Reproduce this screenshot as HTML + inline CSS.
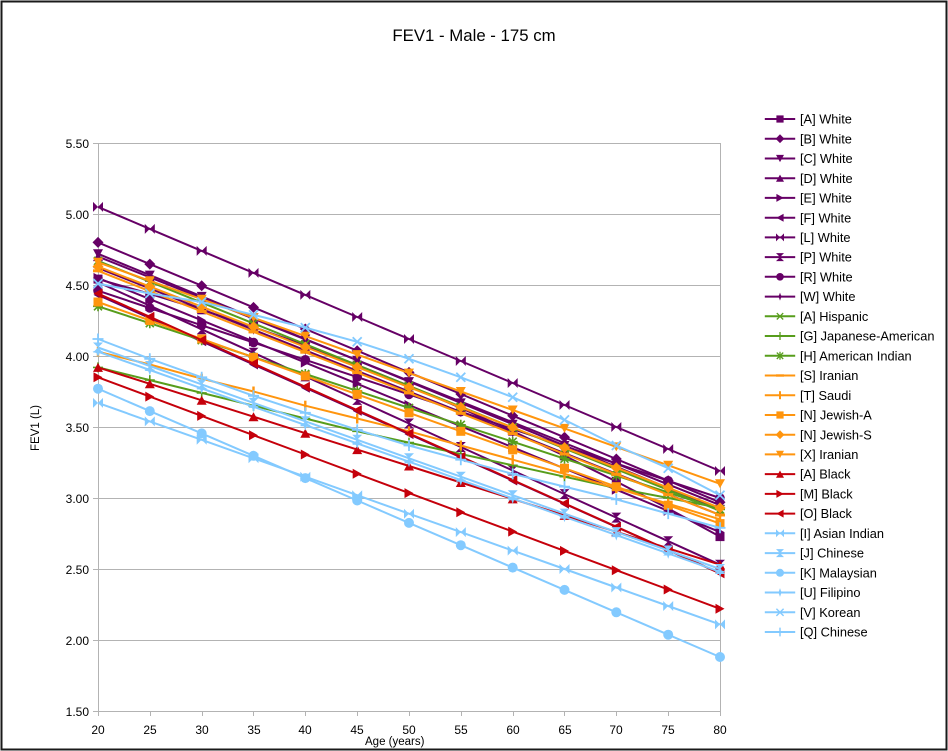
<!DOCTYPE html>
<html><head><meta charset="utf-8"><style>
html,body{margin:0;padding:0;background:#fff;}
svg{display:block;font-family:"Liberation Sans",sans-serif;}
</style></head><body>
<svg width="948" height="751" viewBox="0 0 948 751" xmlns="http://www.w3.org/2000/svg">
<defs>
<!-- purple -->
<marker id="pA" markerUnits="userSpaceOnUse" markerWidth="14" markerHeight="14" viewBox="-7 -7 14 14" refX="0" refY="0" overflow="visible"><rect x="-4.5" y="-4.5" width="9" height="9" fill="#660066"/></marker>
<marker id="pB" markerUnits="userSpaceOnUse" markerWidth="14" markerHeight="14" viewBox="-7 -7 14 14" refX="0" refY="0" overflow="visible"><polygon points="0,-5.5 5.5,0 0,5.5 -5.5,0" fill="#660066"/></marker>
<marker id="pC" markerUnits="userSpaceOnUse" markerWidth="14" markerHeight="14" viewBox="-7 -7 14 14" refX="0" refY="0" overflow="visible"><polygon points="-5,-4.5 5,-4.5 0,4.5" fill="#660066"/></marker>
<marker id="pD" markerUnits="userSpaceOnUse" markerWidth="14" markerHeight="14" viewBox="-7 -7 14 14" refX="0" refY="0" overflow="visible"><polygon points="-5,4.5 5,4.5 0,-4.5" fill="#660066"/></marker>
<marker id="pE" markerUnits="userSpaceOnUse" markerWidth="14" markerHeight="14" viewBox="-7 -7 14 14" refX="0" refY="0" overflow="visible"><polygon points="-4.5,-5 4.5,0 -4.5,5" fill="#660066"/></marker>
<marker id="pF" markerUnits="userSpaceOnUse" markerWidth="14" markerHeight="14" viewBox="-7 -7 14 14" refX="0" refY="0" overflow="visible"><polygon points="4.5,-5 -4.5,0 4.5,5" fill="#660066"/></marker>
<marker id="pL" markerUnits="userSpaceOnUse" markerWidth="14" markerHeight="14" viewBox="-7 -7 14 14" refX="0" refY="0" overflow="visible"><polygon points="-5,-5 0,0 -5,5" fill="#660066"/><polygon points="5,-5 0,0 5,5" fill="#660066"/></marker>
<marker id="pP" markerUnits="userSpaceOnUse" markerWidth="14" markerHeight="14" viewBox="-7 -7 14 14" refX="0" refY="0" overflow="visible"><polygon points="-5,-5 5,-5 0,0" fill="#660066"/><polygon points="-5,5 5,5 0,0" fill="#660066"/></marker>
<marker id="pR" markerUnits="userSpaceOnUse" markerWidth="14" markerHeight="14" viewBox="-7 -7 14 14" refX="0" refY="0" overflow="visible"><circle r="4.8" fill="#660066"/></marker>
<marker id="pW" markerUnits="userSpaceOnUse" markerWidth="14" markerHeight="14" viewBox="-7 -7 14 14" refX="0" refY="0" overflow="visible"><polygon points="0,-5 1.3,-1.3 5,0 1.3,1.3 0,5 -1.3,1.3 -5,0 -1.3,-1.3" fill="#660066"/></marker>
<!-- green -->
<marker id="gA" markerUnits="userSpaceOnUse" markerWidth="14" markerHeight="14" viewBox="-7 -7 14 14" refX="0" refY="0" overflow="visible"><path d="M-4,-4L4,4M-4,4L4,-4" stroke="#579d1c" stroke-width="1.6"/></marker>
<marker id="gG" markerUnits="userSpaceOnUse" markerWidth="14" markerHeight="14" viewBox="-7 -7 14 14" refX="0" refY="0" overflow="visible"><path d="M0,-5L0,5M-5,0L5,0" stroke="#579d1c" stroke-width="1.6"/></marker>
<marker id="gH" markerUnits="userSpaceOnUse" markerWidth="14" markerHeight="14" viewBox="-7 -7 14 14" refX="0" refY="0" overflow="visible"><path d="M-4,-4L4,4M-4,4L4,-4M0,-5L0,5M-5,0L5,0" stroke="#579d1c" stroke-width="1.6"/></marker>
<!-- orange -->
<marker id="oS" markerUnits="userSpaceOnUse" markerWidth="14" markerHeight="14" viewBox="-7 -7 14 14" refX="0" refY="0" overflow="visible"><rect x="-5" y="-1.5" width="10" height="3" fill="#ff950e"/></marker>
<marker id="oT" markerUnits="userSpaceOnUse" markerWidth="14" markerHeight="14" viewBox="-7 -7 14 14" refX="0" refY="0" overflow="visible"><rect x="-1.2" y="-5" width="2.4" height="10" fill="#ff950e"/></marker>
<marker id="oNA" markerUnits="userSpaceOnUse" markerWidth="14" markerHeight="14" viewBox="-7 -7 14 14" refX="0" refY="0" overflow="visible"><rect x="-4.5" y="-4.5" width="9" height="9" fill="#ff950e"/></marker>
<marker id="oNS" markerUnits="userSpaceOnUse" markerWidth="14" markerHeight="14" viewBox="-7 -7 14 14" refX="0" refY="0" overflow="visible"><polygon points="0,-5.5 5.5,0 0,5.5 -5.5,0" fill="#ff950e"/></marker>
<marker id="oX" markerUnits="userSpaceOnUse" markerWidth="14" markerHeight="14" viewBox="-7 -7 14 14" refX="0" refY="0" overflow="visible"><polygon points="-5,-4.5 5,-4.5 0,4.5" fill="#ff950e"/></marker>
<!-- red -->
<marker id="rA" markerUnits="userSpaceOnUse" markerWidth="14" markerHeight="14" viewBox="-7 -7 14 14" refX="0" refY="0" overflow="visible"><polygon points="-5,4.5 5,4.5 0,-4.5" fill="#c5000b"/></marker>
<marker id="rM" markerUnits="userSpaceOnUse" markerWidth="14" markerHeight="14" viewBox="-7 -7 14 14" refX="0" refY="0" overflow="visible"><polygon points="-4.5,-5 4.5,0 -4.5,5" fill="#c5000b"/></marker>
<marker id="rO" markerUnits="userSpaceOnUse" markerWidth="14" markerHeight="14" viewBox="-7 -7 14 14" refX="0" refY="0" overflow="visible"><polygon points="4.5,-5 -4.5,0 4.5,5" fill="#c5000b"/></marker>
<!-- light blue -->
<marker id="bI" markerUnits="userSpaceOnUse" markerWidth="14" markerHeight="14" viewBox="-7 -7 14 14" refX="0" refY="0" overflow="visible"><polygon points="-5,-5 0,0 -5,5" fill="#83caff"/><polygon points="5,-5 0,0 5,5" fill="#83caff"/></marker>
<marker id="bJ" markerUnits="userSpaceOnUse" markerWidth="14" markerHeight="14" viewBox="-7 -7 14 14" refX="0" refY="0" overflow="visible"><polygon points="-5,-5 5,-5 0,0" fill="#83caff"/><polygon points="-5,5 5,5 0,0" fill="#83caff"/></marker>
<marker id="bK" markerUnits="userSpaceOnUse" markerWidth="14" markerHeight="14" viewBox="-7 -7 14 14" refX="0" refY="0" overflow="visible"><circle r="5" fill="#83caff"/></marker>
<marker id="bU" markerUnits="userSpaceOnUse" markerWidth="14" markerHeight="14" viewBox="-7 -7 14 14" refX="0" refY="0" overflow="visible"><polygon points="0,-5.5 1.4,-1.4 5.5,0 1.4,1.4 0,5.5 -1.4,1.4 -5.5,0 -1.4,-1.4" fill="#83caff"/></marker>
<marker id="bV" markerUnits="userSpaceOnUse" markerWidth="14" markerHeight="14" viewBox="-7 -7 14 14" refX="0" refY="0" overflow="visible"><path d="M-4.5,-4.5L4.5,4.5M-4.5,4.5L4.5,-4.5" stroke="#83caff" stroke-width="1.8"/></marker>
<marker id="bQ" markerUnits="userSpaceOnUse" markerWidth="14" markerHeight="14" viewBox="-7 -7 14 14" refX="0" refY="0" overflow="visible"><path d="M0,-5.5L0,5.5M-5.5,0L5.5,0" stroke="#83caff" stroke-width="1.8"/></marker>
</defs>

<rect x="0" y="0" width="948" height="751" fill="#fff"/>
<rect x="1.5" y="1.5" width="945" height="748" fill="none" stroke="#1a1a1a" stroke-width="2"/>

<text x="474" y="41" text-anchor="middle" font-size="16.8" fill="#000">FEV1 - Male - 175 cm</text>

<!-- grid -->
<g stroke="#b3b3b3" stroke-width="1">
<line x1="93" y1="143.5" x2="720" y2="143.5"/>
<line x1="93" y1="214.5" x2="720" y2="214.5"/>
<line x1="93" y1="285.5" x2="720" y2="285.5"/>
<line x1="93" y1="356.5" x2="720" y2="356.5"/>
<line x1="93" y1="427.5" x2="720" y2="427.5"/>
<line x1="93" y1="498.5" x2="720" y2="498.5"/>
<line x1="93" y1="569.5" x2="720" y2="569.5"/>
<line x1="93" y1="640.5" x2="720" y2="640.5"/>
<line x1="93" y1="711.5" x2="720" y2="711.5"/>
<line x1="98.5" y1="143" x2="98.5" y2="716"/>
<line x1="720.5" y1="143" x2="720.5" y2="716"/>
<line x1="150.5" y1="711" x2="150.5" y2="716"/>
<line x1="202.5" y1="711" x2="202.5" y2="716"/>
<line x1="253.5" y1="711" x2="253.5" y2="716"/>
<line x1="305.5" y1="711" x2="305.5" y2="716"/>
<line x1="357.5" y1="711" x2="357.5" y2="716"/>
<line x1="409.5" y1="711" x2="409.5" y2="716"/>
<line x1="461.5" y1="711" x2="461.5" y2="716"/>
<line x1="513.5" y1="711" x2="513.5" y2="716"/>
<line x1="564.5" y1="711" x2="564.5" y2="716"/>
<line x1="616.5" y1="711" x2="616.5" y2="716"/>
<line x1="668.5" y1="711" x2="668.5" y2="716"/>
</g>

<g font-size="12" fill="#000" text-anchor="end">
<text x="89" y="148">5.50</text>
<text x="89" y="219">5.00</text>
<text x="89" y="290">4.50</text>
<text x="89" y="361">4.00</text>
<text x="89" y="432">3.50</text>
<text x="89" y="503">3.00</text>
<text x="89" y="574">2.50</text>
<text x="89" y="645">2.00</text>
<text x="89" y="716">1.50</text>
</g>
<g font-size="12" fill="#000" text-anchor="middle">
<text x="98" y="734">20</text>
<text x="150" y="734">25</text>
<text x="202" y="734">30</text>
<text x="254" y="734">35</text>
<text x="305" y="734">40</text>
<text x="357" y="734">45</text>
<text x="409" y="734">50</text>
<text x="461" y="734">55</text>
<text x="513" y="734">60</text>
<text x="565" y="734">65</text>
<text x="616" y="734">70</text>
<text x="668" y="734">75</text>
<text x="720" y="734">80</text>
</g>
<text x="365" y="745" font-size="11.5" fill="#000">Age (years)</text>
<text transform="translate(39,428) rotate(-90)" text-anchor="middle" font-size="11.5" fill="#000">FEV1 (L)</text>

<!-- series -->
<g fill="none" stroke-width="2" stroke-linejoin="round">
<polyline stroke="#660066" marker-start="url(#pA)" marker-mid="url(#pA)" marker-end="url(#pA)" points="98,279.1 149.8,293.8 201.7,309.8 253.5,327.0 305.3,345.4 357.2,365.0 409,385.9 460.8,407.9 512.7,431.2 564.5,455.8 616.3,481.5 668.2,508.5 720,536.6"/>
<polyline stroke="#660066" marker-start="url(#pB)" marker-mid="url(#pB)" marker-end="url(#pB)" points="98,242.4 149.8,264.1 201.7,285.7 253.5,307.4 305.3,329.0 357.2,350.7 409,372.4 460.8,394.0 512.7,415.7 564.5,437.3 616.3,459.0 668.2,480.7 720,502.3"/>
<polyline stroke="#660066" marker-start="url(#pC)" marker-mid="url(#pC)" marker-end="url(#pC)" points="98,253.8 149.8,275.1 201.7,296.4 253.5,317.7 305.3,339.0 357.2,360.3 409,381.6 460.8,402.9 512.7,424.2 564.5,445.5 616.3,466.8 668.2,488.1 720,509.4"/>
<polyline stroke="#660066" marker-start="url(#pD)" marker-mid="url(#pD)" marker-end="url(#pD)" points="98,256.6 149.8,277.3 201.7,298.0 253.5,318.7 305.3,339.4 357.2,360.2 409,380.9 460.8,401.6 512.7,422.3 564.5,443.0 616.3,463.7 668.2,484.4 720,505.1"/>
<polyline stroke="#660066" marker-start="url(#pE)" marker-mid="url(#pE)" marker-end="url(#pE)" points="98,277.9 149.8,299.1 201.7,320.3 253.5,341.4 305.3,362.6 357.2,383.8 409,405.0 460.8,426.2 512.7,447.3 564.5,468.5 616.3,489.7 668.2,510.9 720,532.1"/>
<polyline stroke="#660066" marker-start="url(#pF)" marker-mid="url(#pF)" marker-end="url(#pF)" points="98,294.9 149.8,318.1 201.7,341.3 253.5,364.5 305.3,387.7 357.2,410.9 409,434.1 460.8,457.3 512.7,480.5 564.5,503.7 616.3,526.9 668.2,550.1 720,573.3"/>
<polyline stroke="#660066" marker-start="url(#pL)" marker-mid="url(#pL)" marker-end="url(#pL)" points="98,206.9 149.8,228.9 201.7,250.9 253.5,272.9 305.3,294.9 357.2,317.0 409,339.0 460.8,361.0 512.7,383.0 564.5,405.0 616.3,427.0 668.2,449.0 720,471.0"/>
<polyline stroke="#660066" marker-start="url(#pP)" marker-mid="url(#pP)" marker-end="url(#pP)" points="98,282.2 149.8,305.7 201.7,329.3 253.5,352.8 305.3,376.4 357.2,399.9 409,423.5 460.8,447.0 512.7,470.5 564.5,494.1 616.3,517.6 668.2,541.2 720,564.7"/>
<polyline stroke="#660066" marker-start="url(#pR)" marker-mid="url(#pR)" marker-end="url(#pR)" points="98,290.7 149.8,308.0 201.7,325.3 253.5,342.5 305.3,359.8 357.2,377.1 409,394.4 460.8,411.7 512.7,429.0 564.5,446.2 616.3,463.5 668.2,480.8 720,498.0"/>
<polyline stroke="#660066" marker-start="url(#pW)" marker-mid="url(#pW)" marker-end="url(#pW)" points="98,267.9 149.8,288.5 201.7,309.1 253.5,329.7 305.3,350.3 357.2,370.9 409,391.5 460.8,412.0 512.7,432.6 564.5,453.2 616.3,473.8 668.2,494.4 720,515.0"/>

<polyline stroke="#579d1c" marker-start="url(#gA)" marker-mid="url(#gA)" marker-end="url(#gA)" points="98,260.9 149.8,281.7 201.7,302.6 253.5,323.4 305.3,344.2 357.2,365.1 409,385.9 460.8,406.7 512.7,427.5 564.5,448.4 616.3,469.2 668.2,490.0 720,510.8"/>
<polyline stroke="#579d1c" marker-start="url(#gG)" marker-mid="url(#gG)" marker-end="url(#gG)" points="98,367.4 149.8,380.1 201.7,392.9 253.5,405.7 305.3,418.5 357.2,431.3 409,442.6 460.8,454.0 512.7,465.3 564.5,476.7 616.3,488.1 668.2,498.0 720,507.9"/>
<polyline stroke="#579d1c" marker-start="url(#gH)" marker-mid="url(#gH)" marker-end="url(#gH)" points="98,306.3 149.8,323.2 201.7,340.2 253.5,357.1 305.3,374.0 357.2,390.9 409,407.9 460.8,424.8 512.7,441.7 564.5,458.7 616.3,475.6 668.2,492.5 720,509.4"/>

<polyline stroke="#ff950e" marker-start="url(#oS)" marker-mid="url(#oS)" marker-end="url(#oS)" points="98,270.8 149.8,291.2 201.7,311.5 253.5,331.9 305.3,352.2 357.2,372.6 409,392.9 460.8,413.3 512.7,433.6 564.5,454.0 616.3,474.3 668.2,494.7 720,515.0"/>
<polyline stroke="#ff950e" marker-start="url(#oT)" marker-mid="url(#oT)" marker-end="url(#oT)" points="98,351.7 149.8,364.5 201.7,378.7 253.5,391.5 305.3,405.7 357.2,418.5 409,431.3 460.8,445.5 512.7,459.7 564.5,473.9 616.3,488.1 668.2,503.7 720,519.3"/>
<polyline stroke="#ff950e" marker-start="url(#oNA)" marker-mid="url(#oNA)" marker-end="url(#oNA)" points="98,302.0 149.8,320.5 201.7,338.9 253.5,357.4 305.3,375.9 357.2,394.4 409,412.8 460.8,431.3 512.7,449.8 564.5,468.2 616.3,486.7 668.2,505.2 720,523.6"/>
<polyline stroke="#ff950e" marker-start="url(#oNS)" marker-mid="url(#oNS)" marker-end="url(#oNS)" points="98,266.5 149.8,286.6 201.7,306.7 253.5,326.9 305.3,347.0 357.2,367.1 409,387.2 460.8,407.3 512.7,427.5 564.5,447.6 616.3,467.7 668.2,487.8 720,507.9"/>
<polyline stroke="#ff950e" marker-start="url(#oX)" marker-mid="url(#oX)" marker-end="url(#oX)" points="98,262.3 149.8,280.8 201.7,299.2 253.5,317.7 305.3,336.1 357.2,354.6 409,373.1 460.8,391.5 512.7,410.0 564.5,428.4 616.3,446.9 668.2,465.3 720,483.8"/>

<polyline stroke="#c5000b" marker-start="url(#rA)" marker-mid="url(#rA)" marker-end="url(#rA)" points="98,367.4 149.8,383.8 201.7,400.3 253.5,416.7 305.3,433.2 357.2,449.6 409,466.0 460.8,482.5 512.7,498.9 564.5,515.4 616.3,531.8 668.2,548.3 720,564.7"/>
<polyline stroke="#c5000b" marker-start="url(#rM)" marker-mid="url(#rM)" marker-end="url(#rM)" points="98,377.3 149.8,396.6 201.7,415.9 253.5,435.2 305.3,454.5 357.2,473.8 409,493.1 460.8,512.3 512.7,531.6 564.5,550.9 616.3,570.2 668.2,589.5 720,608.8"/>
<polyline stroke="#c5000b" marker-start="url(#rO)" marker-mid="url(#rO)" marker-end="url(#rO)" points="98,293.5 149.8,316.8 201.7,340.1 253.5,363.5 305.3,386.8 357.2,410.1 409,433.4 460.8,456.7 512.7,480.0 564.5,503.4 616.3,526.7 668.2,550.0 720,573.3"/>

<polyline stroke="#83caff" marker-start="url(#bI)" marker-mid="url(#bI)" marker-end="url(#bI)" points="98,402.9 149.8,421.4 201.7,439.8 253.5,458.3 305.3,476.7 357.2,495.2 409,513.7 460.8,532.1 512.7,550.6 564.5,569.0 616.3,587.5 668.2,606.0 720,624.4"/>
<polyline stroke="#83caff" marker-start="url(#bJ)" marker-mid="url(#bJ)" marker-end="url(#bJ)" points="98,347.5 149.8,366.0 201.7,384.4 253.5,402.9 305.3,421.3 357.2,439.8 409,458.3 460.8,476.7 512.7,495.2 564.5,513.6 616.3,532.1 668.2,550.5 720,569.0"/>
<polyline stroke="#83caff" marker-start="url(#bK)" marker-mid="url(#bK)" marker-end="url(#bK)" points="98,388.7 149.8,411.1 201.7,433.4 253.5,455.8 305.3,478.1 357.2,500.5 409,522.9 460.8,545.2 512.7,567.6 564.5,589.9 616.3,612.3 668.2,634.7 720,657.0"/>
<polyline stroke="#83caff" marker-start="url(#bU)" marker-mid="url(#bU)" marker-end="url(#bU)" points="98,351.7 149.8,370.0 201.7,388.4 253.5,406.7 305.3,425.1 357.2,443.4 409,461.7 460.8,480.1 512.7,498.4 564.5,516.8 616.3,535.1 668.2,553.4 720,571.8"/>
<polyline stroke="#83caff" marker-start="url(#bV)" marker-mid="url(#bV)" marker-end="url(#bV)" points="98,283.6 149.8,293.5 201.7,302.0 253.5,314.8 305.3,327.6 357.2,341.8 409,358.8 460.8,377.3 512.7,397.2 564.5,419.9 616.3,445.5 668.2,468.2 720,495.2"/>
<polyline stroke="#83caff" marker-start="url(#bQ)" marker-mid="url(#bQ)" marker-end="url(#bQ)" points="98,339.0 149.8,358.8 201.7,377.3 253.5,395.8 305.3,412.8 357.2,429.8 409,445.5 460.8,459.7 512.7,473.9 564.5,486.6 616.3,499.4 668.2,513.6 720,527.8"/>
</g>

<!-- legend -->
<g fill="none" stroke-width="2.5">
<g transform="translate(780,119) scale(0.8)"><path stroke="#660066" marker-mid="url(#pA)" d="M-19,0 L0,0 L19,0"/></g>
<g transform="translate(780,138.7) scale(0.8)"><path stroke="#660066" marker-mid="url(#pB)" d="M-19,0 L0,0 L19,0"/></g>
<g transform="translate(780,158.5) scale(0.8)"><path stroke="#660066" marker-mid="url(#pC)" d="M-19,0 L0,0 L19,0"/></g>
<g transform="translate(780,178.2) scale(0.8)"><path stroke="#660066" marker-mid="url(#pD)" d="M-19,0 L0,0 L19,0"/></g>
<g transform="translate(780,197.9) scale(0.8)"><path stroke="#660066" marker-mid="url(#pE)" d="M-19,0 L0,0 L19,0"/></g>
<g transform="translate(780,217.7) scale(0.8)"><path stroke="#660066" marker-mid="url(#pF)" d="M-19,0 L0,0 L19,0"/></g>
<g transform="translate(780,237.4) scale(0.8)"><path stroke="#660066" marker-mid="url(#pL)" d="M-19,0 L0,0 L19,0"/></g>
<g transform="translate(780,257.1) scale(0.8)"><path stroke="#660066" marker-mid="url(#pP)" d="M-19,0 L0,0 L19,0"/></g>
<g transform="translate(780,276.8) scale(0.8)"><path stroke="#660066" marker-mid="url(#pR)" d="M-19,0 L0,0 L19,0"/></g>
<g transform="translate(780,296.6) scale(0.8)"><path stroke="#660066" marker-mid="url(#pW)" d="M-19,0 L0,0 L19,0"/></g>
<g transform="translate(780,316.3) scale(0.8)"><path stroke="#579d1c" marker-mid="url(#gA)" d="M-19,0 L0,0 L19,0"/></g>
<g transform="translate(780,336.0) scale(0.8)"><path stroke="#579d1c" marker-mid="url(#gG)" d="M-19,0 L0,0 L19,0"/></g>
<g transform="translate(780,355.8) scale(0.8)"><path stroke="#579d1c" marker-mid="url(#gH)" d="M-19,0 L0,0 L19,0"/></g>
<g transform="translate(780,375.5) scale(0.8)"><path stroke="#ff950e" marker-mid="url(#oS)" d="M-19,0 L0,0 L19,0"/></g>
<g transform="translate(780,395.2) scale(0.8)"><path stroke="#ff950e" marker-mid="url(#oT)" d="M-19,0 L0,0 L19,0"/></g>
<g transform="translate(780,415.0) scale(0.8)"><path stroke="#ff950e" marker-mid="url(#oNA)" d="M-19,0 L0,0 L19,0"/></g>
<g transform="translate(780,434.7) scale(0.8)"><path stroke="#ff950e" marker-mid="url(#oNS)" d="M-19,0 L0,0 L19,0"/></g>
<g transform="translate(780,454.4) scale(0.8)"><path stroke="#ff950e" marker-mid="url(#oX)" d="M-19,0 L0,0 L19,0"/></g>
<g transform="translate(780,474.1) scale(0.8)"><path stroke="#c5000b" marker-mid="url(#rA)" d="M-19,0 L0,0 L19,0"/></g>
<g transform="translate(780,493.9) scale(0.8)"><path stroke="#c5000b" marker-mid="url(#rM)" d="M-19,0 L0,0 L19,0"/></g>
<g transform="translate(780,513.6) scale(0.8)"><path stroke="#c5000b" marker-mid="url(#rO)" d="M-19,0 L0,0 L19,0"/></g>
<g transform="translate(780,533.3) scale(0.8)"><path stroke="#83caff" marker-mid="url(#bI)" d="M-19,0 L0,0 L19,0"/></g>
<g transform="translate(780,553.1) scale(0.8)"><path stroke="#83caff" marker-mid="url(#bJ)" d="M-19,0 L0,0 L19,0"/></g>
<g transform="translate(780,572.8) scale(0.8)"><path stroke="#83caff" marker-mid="url(#bK)" d="M-19,0 L0,0 L19,0"/></g>
<g transform="translate(780,592.5) scale(0.8)"><path stroke="#83caff" marker-mid="url(#bU)" d="M-19,0 L0,0 L19,0"/></g>
<g transform="translate(780,612.3) scale(0.8)"><path stroke="#83caff" marker-mid="url(#bV)" d="M-19,0 L0,0 L19,0"/></g>
<g transform="translate(780,632.0) scale(0.8)"><path stroke="#83caff" marker-mid="url(#bQ)" d="M-19,0 L0,0 L19,0"/></g>
</g>
<g font-size="12.8" fill="#000">
<text x="800" y="123.6">[A] White</text>
<text x="800" y="143.3">[B] White</text>
<text x="800" y="163.1">[C] White</text>
<text x="800" y="182.8">[D] White</text>
<text x="800" y="202.5">[E] White</text>
<text x="800" y="222.3">[F] White</text>
<text x="800" y="242">[L] White</text>
<text x="800" y="261.7">[P] White</text>
<text x="800" y="281.4">[R] White</text>
<text x="800" y="301.2">[W] White</text>
<text x="800" y="320.9">[A] Hispanic</text>
<text x="800" y="340.6">[G] Japanese-American</text>
<text x="800" y="360.4">[H] American Indian</text>
<text x="800" y="380.1">[S] Iranian</text>
<text x="800" y="399.8">[T] Saudi</text>
<text x="800" y="419.6">[N] Jewish-A</text>
<text x="800" y="439.3">[N] Jewish-S</text>
<text x="800" y="459">[X] Iranian</text>
<text x="800" y="478.7">[A] Black</text>
<text x="800" y="498.5">[M] Black</text>
<text x="800" y="518.2">[O] Black</text>
<text x="800" y="537.9">[I] Asian Indian</text>
<text x="800" y="557.7">[J] Chinese</text>
<text x="800" y="577.4">[K] Malaysian</text>
<text x="800" y="597.1">[U] Filipino</text>
<text x="800" y="616.9">[V] Korean</text>
<text x="800" y="636.6">[Q] Chinese</text>
</g>
</svg>
</body></html>
